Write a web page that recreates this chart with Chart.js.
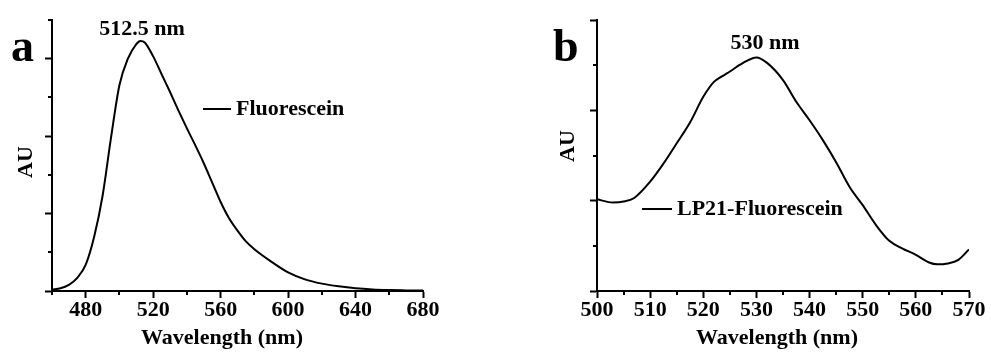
<!DOCTYPE html>
<html>
<head>
<meta charset="utf-8">
<script src="https://cdn.jsdelivr.net/npm/chart.js@4"></script>
<style>
  html, body { margin: 0; padding: 0; background: #fff; }
  #wrap { position: relative; width: 991px; height: 352px; overflow: hidden; }
  canvas { position: absolute; top: 0; }
  #chartA { left: 0; }
  #chartB { left: 540px; }
</style>
</head>
<body>
<div id="wrap">
  <canvas id="chartA" width="475" height="352"></canvas>
  <canvas id="chartB" width="451" height="352"></canvas>
</div>
<script>
// Panel a: free fluorescein emission
const waveA = [460, 465, 470, 475, 480, 485, 490, 495, 500, 505, 510, 512.5, 515, 520, 525, 530, 535, 540, 545, 550,
               555, 560, 565, 570, 575, 580, 590, 600, 610, 620, 630, 640, 650, 660, 670, 680];
const auA   = [0.02, 0.035, 0.08, 0.17, 0.34, 0.70, 1.23, 1.98, 2.66, 3.00, 3.19, 3.23, 3.21, 3.03, 2.80, 2.57, 2.33, 2.10, 1.88, 1.65,
               1.40, 1.15, 0.94, 0.78, 0.64, 0.54, 0.38, 0.24, 0.15, 0.095, 0.06, 0.035, 0.02, 0.012, 0.008, 0.005];
const xMajorA = [480, 520, 560, 600, 640, 680];
const xMinorA = [460, 500, 540, 580, 620, 660];
const yMajorA = [0, 1, 2, 3];
const yMinorA = [0.5, 1.5, 2.5, 3.5];

// Panel b: LP21-fluorescein conjugate
const waveB = [500, 503, 505, 507, 510, 512.5, 515, 517.5, 520, 522, 523.5, 525, 527.5, 530, 532, 535, 537.5, 540,
               542.5, 545, 547.5, 550, 552.5, 555, 557.5, 560, 562.5, 564, 566, 568, 570];
const auB   = [2.03, 1.96, 1.98, 2.06, 2.42, 2.82, 3.27, 3.73, 4.30, 4.63, 4.75, 4.86, 5.05, 5.17, 5.05, 4.67, 4.19, 3.78,
               3.34, 2.85, 2.31, 1.90, 1.46, 1.11, 0.94, 0.80, 0.63, 0.59, 0.61, 0.69, 0.92];
const xMajorB = [500, 510, 520, 530, 540, 550, 560, 570];
const xMinorB = [505, 515, 525, 535, 545, 555, 565];
const yMajorB = [0, 2, 4, 6];
const yMinorB = [1, 3, 5];

const SERIF = '"Liberation Serif", "Times New Roman", serif';
const boldFont = (px) => `bold ${px}px ${SERIF}`;

// minor ticks are shorter than the library's major ticks, so they are drawn
// here off the chart's own scales
const minorTicks = {
  id: 'minorTicks',
  afterDraw(chart, args, opts) {
    const { ctx, scales: { x, y } } = chart;
    ctx.save();
    ctx.strokeStyle = '#000';
    ctx.lineWidth = 2;
    ctx.beginPath();
    opts.x.forEach(v => {
      const px = Math.round(x.getPixelForValue(v));
      ctx.moveTo(px, x.top);
      ctx.lineTo(px, x.top + 4);
    });
    opts.y.forEach(v => {
      const py = Math.round(y.getPixelForValue(v));
      ctx.moveTo(y.right, py);
      ctx.lineTo(y.right - 4, py);
    });
    ctx.stroke();
    ctx.restore();
  }
};

// panel letter, peak label, legend and axis titles
const annotations = {
  id: 'annotations',
  afterDraw(chart, args, o) {
    const { ctx } = chart;
    ctx.save();
    ctx.fillStyle = '#000';
    ctx.strokeStyle = '#000';
    ctx.textBaseline = 'alphabetic';

    ctx.font = boldFont(46);
    ctx.textAlign = 'left';
    ctx.fillText(o.letter, o.letterX, 61);

    ctx.font = boldFont(22);
    ctx.textAlign = 'center';
    ctx.fillText(o.peak, o.peakX, o.peakY);

    ctx.lineWidth = 2;
    ctx.beginPath();
    ctx.moveTo(o.legX, o.legY);
    ctx.lineTo(o.legX + o.legLen, o.legY);
    ctx.stroke();
    ctx.textAlign = 'left';
    ctx.fillText(o.legend, o.legX + o.legLen + 5, o.legY + 6);

    ctx.textAlign = 'center';
    ctx.fillText('Wavelength (nm)', o.xTitleX, 344);

    ctx.translate(o.yTitleX, o.yTitleY);
    ctx.rotate(-Math.PI / 2);
    ctx.textBaseline = 'middle';
    ctx.fillText('AU', 0, 0);
    ctx.restore();
  }
};

function makeChart(id, wave, au, xr, yr, xMajor, xMinor, yMajor, yMinor, yWidth, padRight, notes) {
  return new Chart(document.getElementById(id), {
    type: 'line',
    data: {
      datasets: [{
        data: wave.map((w, i) => ({ x: w, y: au[i] })),
        borderColor: '#000',
        borderWidth: 2,
        pointRadius: 0,
        cubicInterpolationMode: 'monotone',
        fill: false
      }]
    },
    options: {
      responsive: false,
      animation: false,
      layout: { padding: { top: 20, right: padRight, bottom: 0, left: 0 } },
      plugins: {
        legend: { display: false },
        tooltip: { enabled: false },
        minorTicks: { x: xMinor, y: yMinor },
        annotations: notes
      },
      scales: {
        x: {
          type: 'linear',
          min: xr[0], max: xr[1],
          afterBuildTicks: (s) => { s.ticks = xMajor.map(v => ({ value: v })); },
          afterFit: (s) => { s.height = 61; },
          border: { display: true, color: '#000', width: 2 },
          grid: { drawOnChartArea: false, drawTicks: true, tickLength: 7, tickWidth: 2, tickColor: '#000' },
          ticks: {
            autoSkip: false, maxRotation: 0, padding: 1, color: '#000',
            font: { family: SERIF, size: 22, weight: 'bold', lineHeight: 1 }
          }
        },
        y: {
          type: 'linear',
          min: yr[0], max: yr[1],
          afterBuildTicks: (s) => { s.ticks = yMajor.map(v => ({ value: v })); },
          afterFit: (s) => { s.width = yWidth; },
          border: { display: true, color: '#000', width: 2 },
          grid: { drawOnChartArea: false, drawTicks: true, tickLength: 7, tickWidth: 2, tickColor: '#000' },
          ticks: { display: false }
        }
      }
    },
    plugins: [minorTicks, annotations]
  });
}

makeChart('chartA', waveA, auA, [460, 680], [0, 3.5], xMajorA, xMinorA, yMajorA, yMinorA, 52, 52, {
  letter: 'a', letterX: 11,
  peak: '512.5 nm', peakX: 142, peakY: 35,
  legend: 'Fluorescein', legX: 203, legY: 109, legLen: 28,
  xTitleX: 222, yTitleX: 26, yTitleY: 162
});

makeChart('chartB', waveB, auB, [500, 570], [0, 6], xMajorB, xMinorB, yMajorB, yMinorB, 57, 22, {
  letter: 'b', letterX: 13,
  peak: '530 nm', peakX: 225, peakY: 49,
  legend: 'LP21-Fluorescein', legX: 102, legY: 209, legLen: 30,
  xTitleX: 237, yTitleX: 28, yTitleY: 146
});
</script>
</body>
</html>
